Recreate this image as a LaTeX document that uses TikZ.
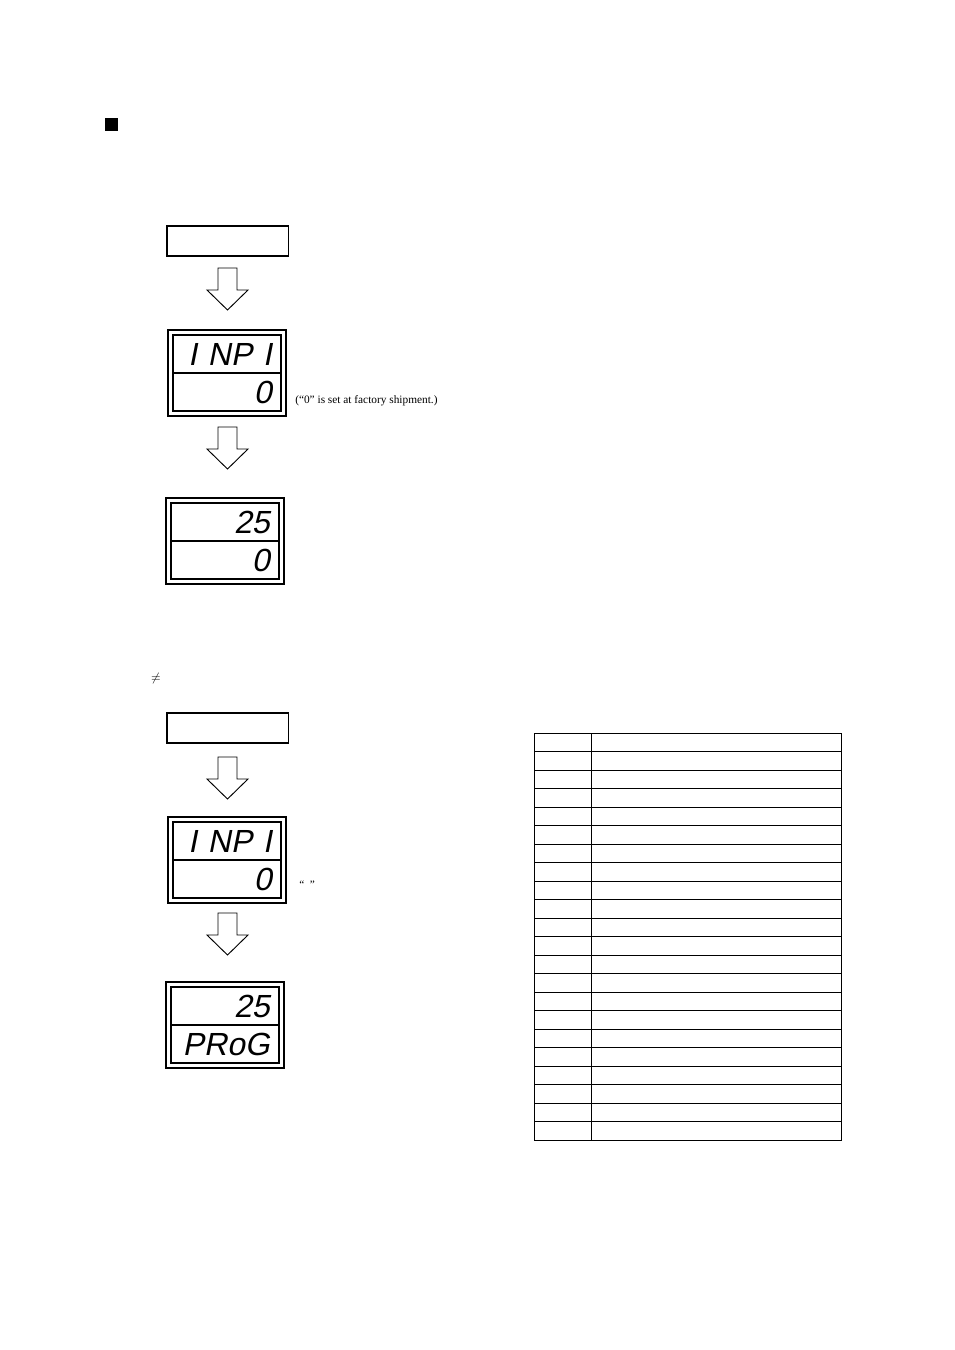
\documentclass[tikz,border=0pt]{standalone}
\usepackage{fontspec}
\setmainfont{Liberation Serif}
\newfontfamily\segfont[FakeSlant=0.2]{Liberation Sans}
\newcommand\hollowarrow[1]{%
  \draw[line width=0.7pt] (218,#1) -- (237,#1) -- (237,#1+22) -- (248,#1+22) -- (227.5,#1+42) -- (207,#1+22) -- (218,#1+22) -- cycle;}
\newcommand\drawlcd[4]{%
  \begin{scope}[shift={(#1,#2)}]
  \draw[line width=2pt] (0,0) rectangle (118,86);
  \draw[line width=1.5pt] (5,5) rectangle (113,81);
  \draw[line width=1pt] (5,43) -- (113,43);
  \node[dtext] at (104,24) {#3};
  \node[dtext] at (104,62) {#4};
  \end{scope}}
\begin{document}
\begin{tikzpicture}[x=0.75pt,y=-0.75pt,
  boxa/.style={draw,line width=1pt},
  dtext/.style={font=\segfont\fontsize{24}{24}\selectfont,anchor=east,inner sep=0},
  small/.style={font=\fontsize{8.5}{10}\selectfont,anchor=west,inner sep=0}]
\useasboundingbox (0,0) rectangle (954,1350);
\fill (105,118) rectangle (118,131);
\node[boxa,minimum width=91pt,minimum height=22.5pt,inner sep=0] (b1) at (227.5,241) {};
\hollowarrow{268}
\drawlcd{168}{330}{I\,\,NP\,\,I}{0}
\node[small] (n1) at (295,401) {(“0” is set at factory shipment.)};
\hollowarrow{427}
\drawlcd{166}{498}{25}{0}
\node[inner sep=0,font=\small] (ne) at (156,678) {$\neq$};
\node[boxa,minimum width=91pt,minimum height=22.5pt,inner sep=0] (b2) at (227.5,728) {};
\hollowarrow{757}
\drawlcd{168}{817}{I\,\,NP\,\,I}{0}
\node[small] (n2) at (299,885) {“\ \ ”};
\hollowarrow{913}
\drawlcd{166}{982}{25}{PRoG}
\draw[line width=0.6pt] (534,733) rectangle (841,1140);
\draw[line width=0.6pt] (591,733) -- (591,1140);
\foreach \i in {1,...,21}
  \draw[line width=0.6pt] (534,{733+\i*407/22}) -- (841,{733+\i*407/22});
\end{tikzpicture}
\end{document}
